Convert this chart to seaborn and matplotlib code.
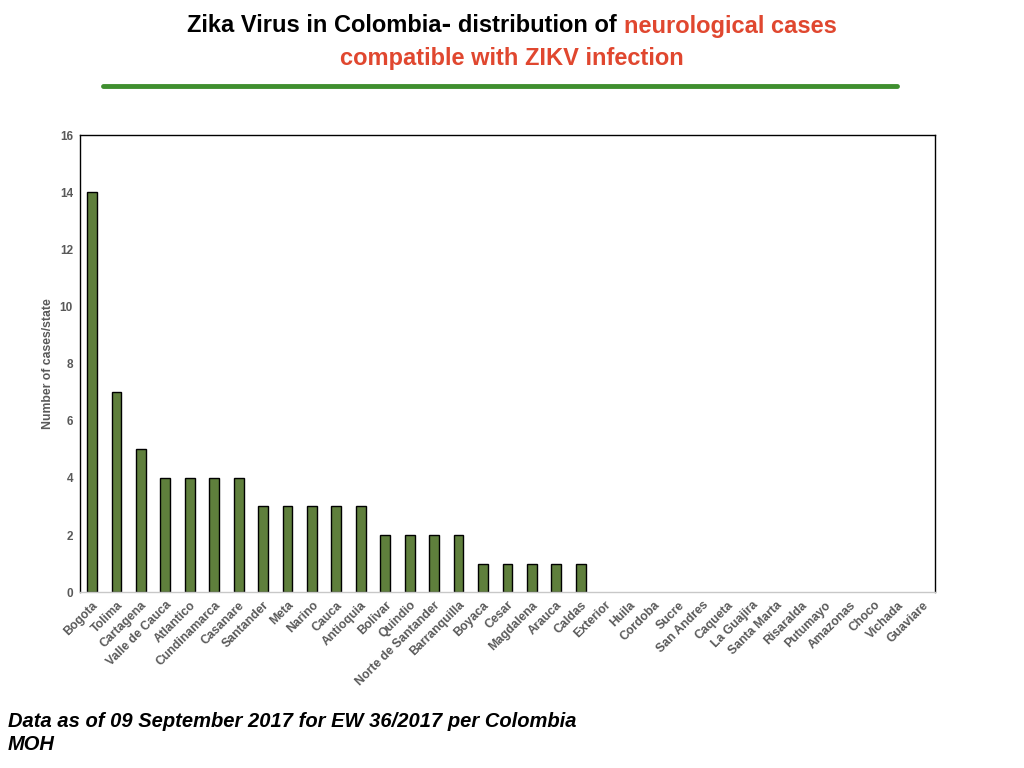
import matplotlib.pyplot as plt
import pandas as pd
import seaborn as sns

states = [
    "Bogota", "Tolima", "Cartagena", "Valle de Cauca", "Atlantico", "Cundinamarca",
    "Casanare", "Santander", "Meta", "Narino", "Cauca", "Antioquia", "Bolivar",
    "Quindio", "Norte de Santander", "Barranquilla", "Boyaca", "Cesar", "Magdalena",
    "Arauca", "Caldas", "Exterior", "Huila", "Cordoba", "Sucre", "San Andres",
    "Caqueta", "La Guajira", "Santa Marta", "Risaralda", "Putumayo", "Amazonas",
    "Choco", "Vichada", "Guaviare",
]
cases = [14, 7, 5, 4, 4, 4, 4, 3, 3, 3, 3, 3, 2, 2, 2, 2, 1, 1, 1, 1, 1,
         0, 0, 0, 0, 0, 0, 0, 0, 0, 0, 0, 0, 0, 0]
y_ticks = [0, 2, 4, 6, 8, 10, 12, 14, 16]

title_black = "Zika Virus in Colombia\u2011 distribution of "
title_red_1 = "neurological cases"
title_red_2 = "compatible with ZIKV infection"
footer = "Data as of 09 September 2017 for EW 36/2017 per Colombia\nMOH"

sns.set_style("white")
plt.rcParams["font.family"] = ["Liberation Sans", "DejaVu Sans"]

frame = pd.DataFrame({"state": states, "cases": cases})

fig = plt.figure(figsize=(10.24, 7.68), dpi=100)
ax = fig.add_axes([0.078, 0.229, 0.835, 0.595])
sns.barplot(data=frame, x="state", y="cases", color="#5f7f3c", width=0.4,
            edgecolor="black", linewidth=1.0, saturation=1, ax=ax)
# empty states get no visible bar outline
for patch in ax.patches:
    if patch.get_height() == 0:
        patch.set_linewidth(0)

ax.set_xlim(-0.5, len(states) - 0.5)
ax.set_ylim(0, 16)
ax.set_yticks(y_ticks)
ax.set_yticklabels([str(t) for t in y_ticks], fontsize=8.5, fontweight="bold", color="#595959")
ax.set_xticks(range(len(states)))
ax.set_xticklabels(states, rotation=45, ha="right", rotation_mode="anchor",
                   fontsize=8.8, fontweight="bold", color="#595959")
ax.tick_params(axis="both", length=0, pad=5)
ax.set_xlabel("")
ax.set_ylabel("Number of cases/state", fontsize=8.8, fontweight="bold", color="#595959", labelpad=4)
for side in ["left", "top", "right"]:
    ax.spines[side].set_color("black")
    ax.spines[side].set_linewidth(1.0)
ax.spines["bottom"].set_color("#c8c8c8")
ax.spines["bottom"].set_linewidth(1.0)

# two-colour title line, centred by measuring each piece
title_font = dict(fontsize=17, fontweight="bold")
renderer = fig.canvas.get_renderer()
t1 = fig.text(0, 1 - 26 / 768, title_black, color="black", va="center", ha="left", **title_font)
t2 = fig.text(0, 1 - 26 / 768, title_red_1, color="#e0472f", va="center", ha="left", **title_font)
w1 = t1.get_window_extent(renderer).width / fig.bbox.width
w2 = t2.get_window_extent(renderer).width / fig.bbox.width
start = 0.5 - (w1 + w2) / 2
t1.set_x(start)
t2.set_x(start + w1)
fig.text(0.5, 1 - 58 / 768, title_red_2, color="#e0472f", va="center", ha="center", **title_font)

fig.add_artist(plt.Line2D([103 / 1024, 897 / 1024], [1 - 86 / 768, 1 - 86 / 768],
                          color="#3f8f2f", linewidth=3.5))

fig.text(8 / 1024, 1 - 733 / 768, footer, fontsize=14.5, fontweight="bold", style="italic",
         color="black", va="center", ha="left", linespacing=1.3)

fig.savefig("out.png", dpi=100)
plt.close(fig)
